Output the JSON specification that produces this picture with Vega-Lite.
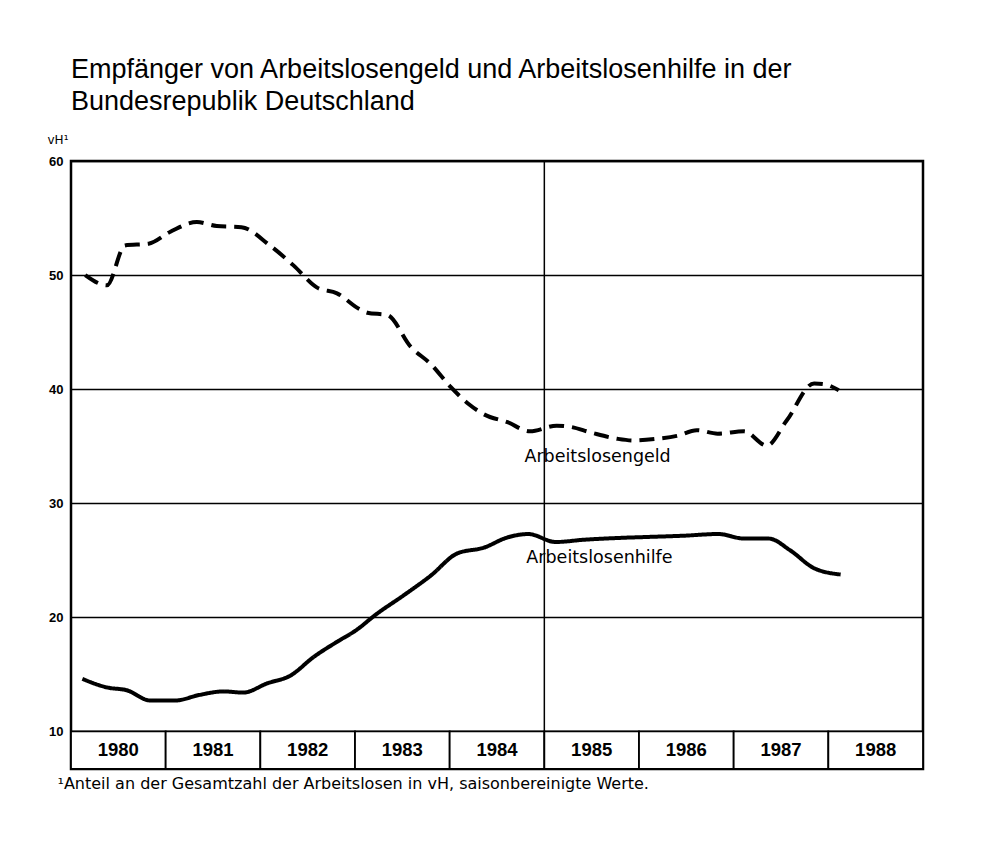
{
  "$schema": "https://vega.github.io/schema/vega-lite/v6.json",
  "width": 852,
  "height": 608,
  "autosize": {"type": "none"},
  "padding": {"left": 71, "top": 161, "right": 80, "bottom": 93},
  "background": "white",
  "title": {
    "text": ["Empfänger von Arbeitslosengeld und Arbeitslosenhilfe in der", "Bundesrepublik Deutschland"],
    "anchor": "start",
    "frame": "group",
    "font": "Liberation Sans",
    "fontSize": 27,
    "fontWeight": "normal",
    "color": "black",
    "lineHeight": 32,
    "offset": 17
  },
  "config": {
    "view": {"stroke": "black", "strokeWidth": 2.5},
    "font": "DejaVu Sans"
  },
  "datasets": {
    "series": [
      {"series": "Arbeitslosengeld", "t": 1980.15, "v": 50.0},
      {"series": "Arbeitslosengeld", "t": 1980.38, "v": 49.1},
      {"series": "Arbeitslosengeld", "t": 1980.57, "v": 52.6},
      {"series": "Arbeitslosengeld", "t": 1980.82, "v": 52.75},
      {"series": "Arbeitslosengeld", "t": 1981.05, "v": 53.8},
      {"series": "Arbeitslosengeld", "t": 1981.33, "v": 54.65},
      {"series": "Arbeitslosengeld", "t": 1981.54, "v": 54.3},
      {"series": "Arbeitslosengeld", "t": 1981.8, "v": 54.2},
      {"series": "Arbeitslosengeld", "t": 1982.1, "v": 52.6},
      {"series": "Arbeitslosengeld", "t": 1982.35, "v": 50.85},
      {"series": "Arbeitslosengeld", "t": 1982.6, "v": 48.9},
      {"series": "Arbeitslosengeld", "t": 1982.81, "v": 48.4},
      {"series": "Arbeitslosengeld", "t": 1983.05, "v": 47.0},
      {"series": "Arbeitslosengeld", "t": 1983.13, "v": 46.7},
      {"series": "Arbeitslosengeld", "t": 1983.34, "v": 46.5},
      {"series": "Arbeitslosengeld", "t": 1983.59, "v": 43.7},
      {"series": "Arbeitslosengeld", "t": 1983.8, "v": 42.2},
      {"series": "Arbeitslosengeld", "t": 1984.01, "v": 40.2},
      {"series": "Arbeitslosengeld", "t": 1984.2, "v": 38.7},
      {"series": "Arbeitslosengeld", "t": 1984.36, "v": 37.8},
      {"series": "Arbeitslosengeld", "t": 1984.61, "v": 37.1},
      {"series": "Arbeitslosengeld", "t": 1984.85, "v": 36.3},
      {"series": "Arbeitslosengeld", "t": 1985.13, "v": 36.8},
      {"series": "Arbeitslosengeld", "t": 1985.27, "v": 36.7},
      {"series": "Arbeitslosengeld", "t": 1985.49, "v": 36.2},
      {"series": "Arbeitslosengeld", "t": 1985.77, "v": 35.65},
      {"series": "Arbeitslosengeld", "t": 1985.94, "v": 35.5},
      {"series": "Arbeitslosengeld", "t": 1986.19, "v": 35.65},
      {"series": "Arbeitslosengeld", "t": 1986.4, "v": 35.9},
      {"series": "Arbeitslosengeld", "t": 1986.61, "v": 36.4},
      {"series": "Arbeitslosengeld", "t": 1986.83, "v": 36.1},
      {"series": "Arbeitslosengeld", "t": 1987.11, "v": 36.3},
      {"series": "Arbeitslosengeld", "t": 1987.35, "v": 35.05},
      {"series": "Arbeitslosengeld", "t": 1987.56, "v": 37.25},
      {"series": "Arbeitslosengeld", "t": 1987.85, "v": 40.5},
      {"series": "Arbeitslosengeld", "t": 1987.95, "v": 40.45},
      {"series": "Arbeitslosengeld", "t": 1988.11, "v": 39.9},
      {"series": "Arbeitslosenhilfe", "t": 1980.12, "v": 14.6},
      {"series": "Arbeitslosenhilfe", "t": 1980.38, "v": 13.85},
      {"series": "Arbeitslosenhilfe", "t": 1980.59, "v": 13.6},
      {"series": "Arbeitslosenhilfe", "t": 1980.84, "v": 12.7},
      {"series": "Arbeitslosenhilfe", "t": 1981.1, "v": 12.7},
      {"series": "Arbeitslosenhilfe", "t": 1981.36, "v": 13.2},
      {"series": "Arbeitslosenhilfe", "t": 1981.61, "v": 13.5},
      {"series": "Arbeitslosenhilfe", "t": 1981.82, "v": 13.4},
      {"series": "Arbeitslosenhilfe", "t": 1982.07, "v": 14.2},
      {"series": "Arbeitslosenhilfe", "t": 1982.32, "v": 14.9},
      {"series": "Arbeitslosenhilfe", "t": 1982.56, "v": 16.5},
      {"series": "Arbeitslosenhilfe", "t": 1982.84, "v": 18.0},
      {"series": "Arbeitslosenhilfe", "t": 1983.0, "v": 18.8},
      {"series": "Arbeitslosenhilfe", "t": 1983.23, "v": 20.3},
      {"series": "Arbeitslosenhilfe", "t": 1983.51, "v": 21.9},
      {"series": "Arbeitslosenhilfe", "t": 1983.8, "v": 23.65},
      {"series": "Arbeitslosenhilfe", "t": 1984.08, "v": 25.6},
      {"series": "Arbeitslosenhilfe", "t": 1984.36, "v": 26.1},
      {"series": "Arbeitslosenhilfe", "t": 1984.61, "v": 27.0},
      {"series": "Arbeitslosenhilfe", "t": 1984.83, "v": 27.3},
      {"series": "Arbeitslosenhilfe", "t": 1985.12, "v": 26.6},
      {"series": "Arbeitslosenhilfe", "t": 1985.42, "v": 26.8},
      {"series": "Arbeitslosenhilfe", "t": 1985.77, "v": 26.95},
      {"series": "Arbeitslosenhilfe", "t": 1986.12, "v": 27.05},
      {"series": "Arbeitslosenhilfe", "t": 1986.47, "v": 27.15},
      {"series": "Arbeitslosenhilfe", "t": 1986.84, "v": 27.3},
      {"series": "Arbeitslosenhilfe", "t": 1987.11, "v": 26.9},
      {"series": "Arbeitslosenhilfe", "t": 1987.37, "v": 26.9},
      {"series": "Arbeitslosenhilfe", "t": 1987.6, "v": 25.85},
      {"series": "Arbeitslosenhilfe", "t": 1987.85, "v": 24.3},
      {"series": "Arbeitslosenhilfe", "t": 1988.13, "v": 23.75}
    ],
    "labels": [
      {"label": "Arbeitslosengeld", "t": 1984.79, "v": 33.6},
      {"label": "Arbeitslosenhilfe", "t": 1984.81, "v": 24.8}
    ],
    "years": [
      {"year": "1980"}, {"year": "1981"}, {"year": "1982"}, {"year": "1983"},
      {"year": "1984"}, {"year": "1985"}, {"year": "1986"}, {"year": "1987"}, {"year": "1988"}
    ],
    "divider": [{"t": 1985}]
  },
  "resolve": {"scale": {"x": "independent"}},
  "layer": [
    {
      "layer": [
        {
          "data": {"name": "divider"},
          "mark": {"type": "rule", "color": "black", "strokeWidth": 1.5},
          "encoding": {
            "x": {
              "field": "t",
              "type": "quantitative",
              "scale": {"domain": [1980, 1989], "nice": false, "zero": false},
              "axis": {
                "labels": false,
                "ticks": false,
                "domain": false,
                "grid": false,
                "title": "¹Anteil an der Gesamtzahl der Arbeitslosen in vH, saisonbereinigte Werte.",
                "titleFont": "DejaVu Sans",
                "titleFontSize": 16,
                "titleFontWeight": "normal",
                "titleColor": "black",
                "titleAnchor": "start",
                "titleAlign": "left",
                "titleBaseline": "alphabetic",
                "titleX": -14,
                "titleY": 19
              }
            },
            "y": {"datum": 10, "type": "quantitative"},
            "y2": {"datum": 60}
          }
        },
        {
          "data": {"name": "series"},
          "mark": {"type": "line", "color": "black", "strokeWidth": 4, "interpolate": "monotone"},
          "encoding": {
            "x": {"field": "t", "type": "quantitative"},
            "y": {
              "field": "v",
              "type": "quantitative",
              "scale": {"domain": [6.7, 60], "nice": false, "zero": false},
              "axis": {
                "values": [10, 20, 30, 40, 50, 60],
                "grid": true,
                "gridColor": "black",
                "gridWidth": 1.3,
                "gridOpacity": 1,
                "domain": false,
                "ticks": false,
                "labelFont": "Liberation Sans",
                "labelFontSize": 13,
                "labelFontWeight": "bold",
                "labelColor": "black",
                "labelPadding": 8,
                "title": "vH¹",
                "titleFont": "DejaVu Sans",
                "titleFontSize": 12,
                "titleFontWeight": "normal",
                "titleColor": "black",
                "titleAngle": 0,
                "titleAlign": "left",
                "titleBaseline": "alphabetic",
                "titleX": -24,
                "titleY": -18
              }
            },
            "detail": {"field": "series"},
            "strokeDash": {
              "field": "series",
              "type": "nominal",
              "scale": {"domain": ["Arbeitslosengeld", "Arbeitslosenhilfe"], "range": [[15, 8], [1, 0]]},
              "legend": null
            }
          }
        },
        {
          "data": {"name": "labels"},
          "mark": {"type": "text", "align": "left", "baseline": "alphabetic", "font": "DejaVu Sans", "fontSize": 17.5, "color": "black"},
          "encoding": {
            "x": {"field": "t", "type": "quantitative"},
            "y": {"field": "v", "type": "quantitative"},
            "text": {"field": "label"}
          }
        }
      ]
    },
    {
      "data": {"name": "years"},
      "layer": [
        {
          "mark": {"type": "rect", "fill": "white", "stroke": "black", "strokeWidth": 1.8},
          "encoding": {
            "x": {"field": "year", "type": "ordinal", "scale": {"paddingInner": 0, "paddingOuter": 0}, "axis": null},
            "y": {"datum": 6.7, "type": "quantitative"},
            "y2": {"datum": 10}
          }
        },
        {
          "mark": {"type": "text", "font": "Liberation Sans", "fontSize": 18.5, "fontWeight": "bold", "color": "black", "baseline": "middle"},
          "encoding": {
            "x": {"field": "year", "type": "ordinal", "axis": null},
            "y": {"datum": 8.35, "type": "quantitative"},
            "text": {"field": "year"}
          }
        }
      ]
    }
  ]
}
